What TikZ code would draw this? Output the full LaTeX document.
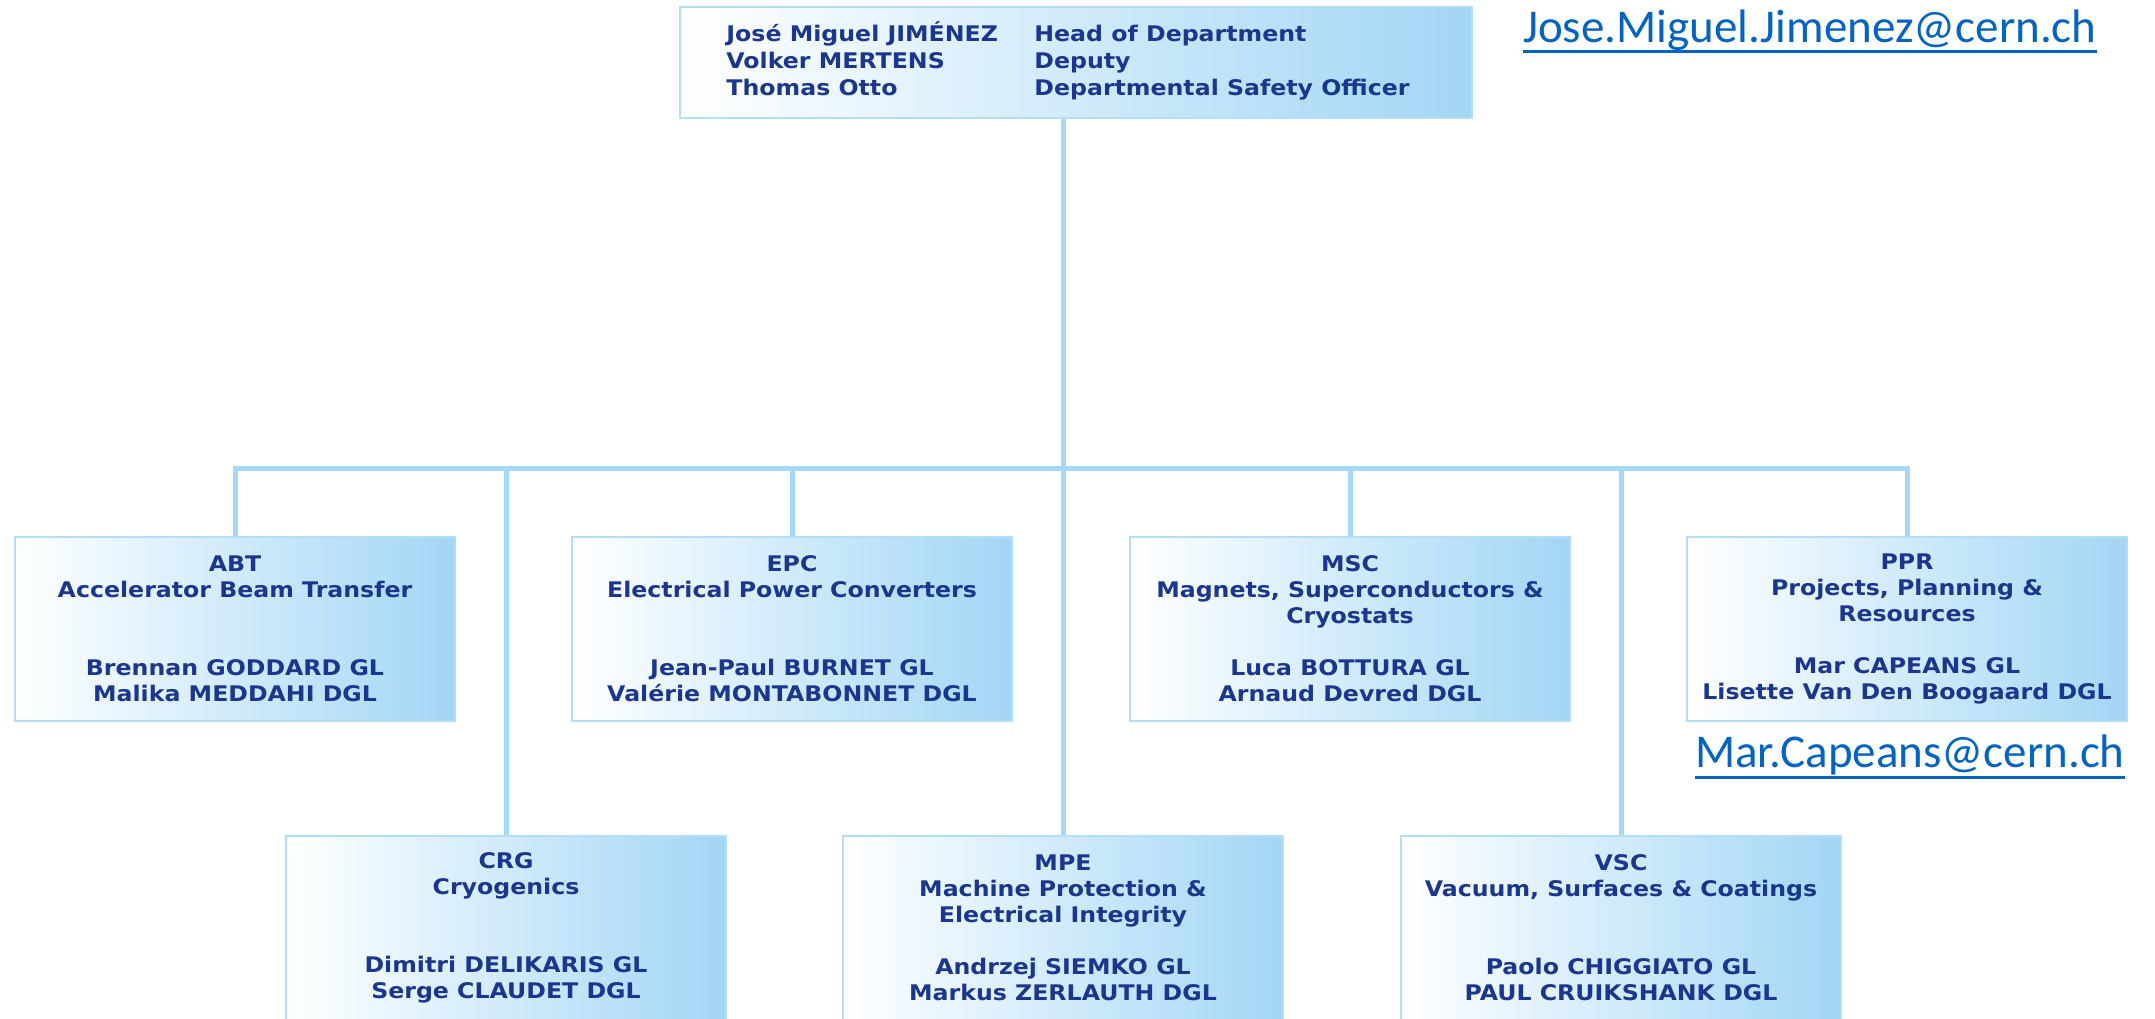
\documentclass[tikz,border=0pt]{standalone}
\usepackage{fontspec}
\usepackage{tikz}
\newfontfamily\orgfont{DejaVu Sans}[FakeStretch=1.1]
\newfontfamily\mailfont{Carlito}
\definecolor{orgtext}{RGB}{26,54,142}
\definecolor{orgblue}{RGB}{162,214,245}
\definecolor{orgedge}{RGB}{180,222,248}
\definecolor{orgline}{RGB}{166,217,247}
\definecolor{mailblue}{RGB}{5,99,193}

\tikzset{
  unit/.style={draw=orgedge, line width=2.5pt, left color=white, right color=orgblue,
    minimum width=440pt, minimum height=184pt, align=center, text=orgtext,
    font=\orgfont\bfseries\fontsize{21.5}{26}\selectfont},
  link/.style={draw=orgline, line width=5pt},
  mail/.style={text=mailblue, inner sep=0pt, font=\mailfont\fontsize{47}{56}\selectfont}
}

\begin{document}
\begin{tikzpicture}[x=1pt,y=-1pt]
		\useasboundingbox (0,0) rectangle (2155,1019);
		% department head
		\node[unit, minimum width=792pt, minimum height=111pt, font=\orgfont\bfseries\fontsize{21.5}{27}\selectfont] (head) at (1076,62.5)
			{\raisebox{3pt}{\begin{tabular}{@{}p{308pt}@{}l@{}}
				José Miguel JIMÉNEZ & Head of Department\\
				Volker MERTENS & Deputy\\
				Thomas Otto & Departmental Safety Officer
			\end{tabular}}\hspace{16pt}};
		% groups, first row
		\node[unit] (abt) at (235,629) {ABT\\Accelerator Beam Transfer\\[52pt]Brennan GODDARD GL\\Malika MEDDAHI DGL};
		\node[unit] (epc) at (792,629) {EPC\\Electrical Power Converters\\[52pt]Jean-Paul BURNET GL\\Valérie MONTABONNET DGL};
		\node[unit] (msc) at (1350,629) {MSC\\Magnets, Superconductors \&\\Cryostats\\[26pt]Luca BOTTURA GL\\Arnaud Devred DGL};
		\node[unit] (ppr) at (1907,629) {PPR\\Projects, Planning \&\\Resources\\[26pt]Mar CAPEANS GL\\Lisette Van Den Boogaard DGL};
		% groups, second row
		\node[unit] (crg) at (506,928) {CRG\\Cryogenics\\[52pt]Dimitri DELIKARIS GL\\Serge CLAUDET DGL};
		\node[unit] (mpe) at (1063,928) {MPE\\Machine Protection \&\\Electrical Integrity\\[26pt]Andrzej SIEMKO GL\\Markus ZERLAUTH DGL};
		\node[unit] (vsc) at (1621,928) {VSC\\Vacuum, Surfaces \& Coatings\\[52pt]Paolo CHIGGIATO GL\\PAUL CRUIKSHANK DGL};
		% connectors
		\coordinate (bus) at (0,468);
		\draw[link] (head.south -| mpe.north) -- (mpe.north);
		\draw[link] (abt.north) -- (abt.north |- bus) -- (ppr.north |- bus) -- (ppr.north);
		\foreach \g in {crg,epc,msc,vsc}
			\draw[link] (\g.north |- bus) -- (\g.north);
		% mail addresses
		\node[mail, anchor=base west] (jmail) at (1523,43) {Jose.Miguel.Jimenez@cern.ch};
		\draw[mailblue, line width=3pt] ([yshift=-9pt]jmail.base west) -- ([yshift=-9pt]jmail.base east);
		\node[mail, anchor=base west] (mmail) at (1695,767) {Mar.Capeans@cern.ch};
		\draw[mailblue, line width=3pt] ([yshift=-10pt]mmail.base west) -- ([yshift=-10pt]mmail.base east);
	\end{tikzpicture}
\end{document}
